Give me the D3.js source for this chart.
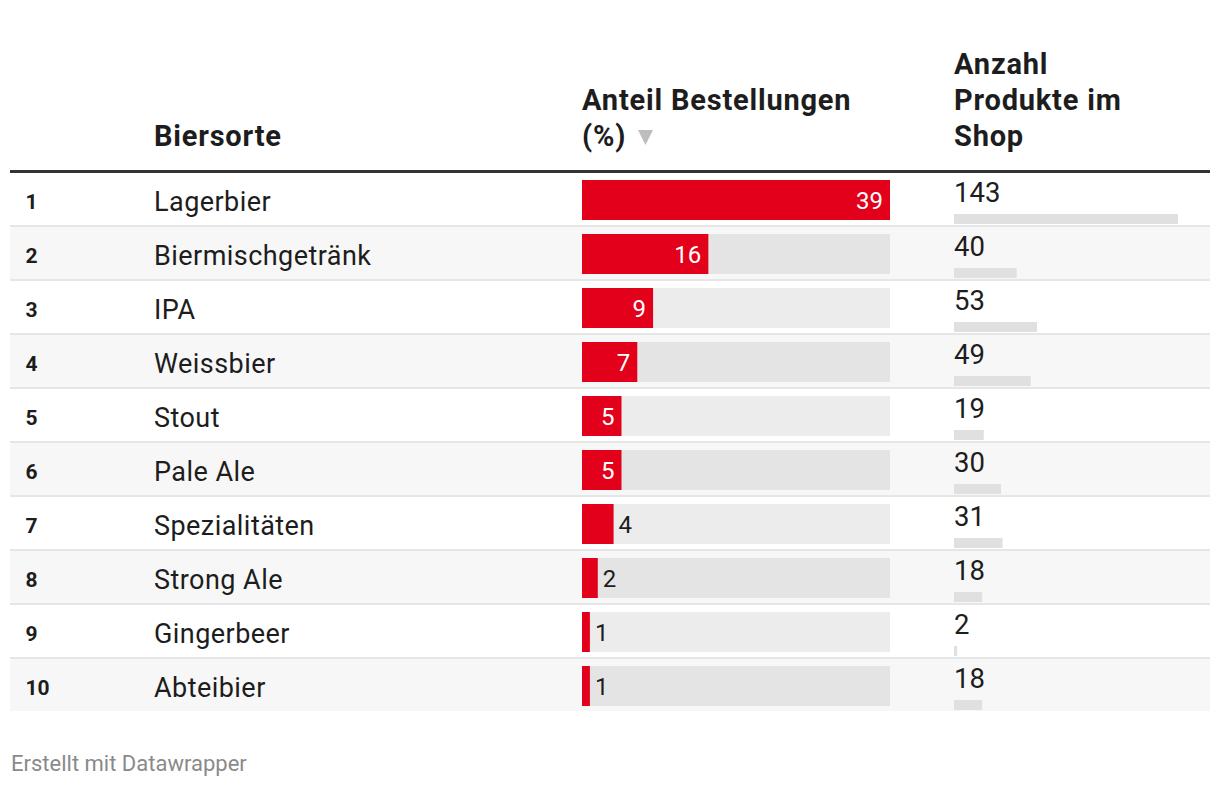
<!DOCTYPE html>
<html><head><meta charset="utf-8">
<script src="https://cdn.jsdelivr.net/npm/d3@7"></script>
<style>
html,body{margin:0;padding:0;background:#fff;}
svg text{font-family:Roboto,"Noto Sans",sans-serif;}
</style></head>
<body><svg id="chart" width="1220" height="788"></svg>
<script>
const ranks = [1,2,3,4,5,6,7,8,9,10];
const categories = ["Lagerbier","Biermischgetränk","IPA","Weissbier","Stout","Pale Ale","Spezialitäten","Strong Ale","Gingerbeer","Abteibier"];
const shareOrders = [39,16,9,7,5,5,4,2,1,1];
const productCount = [143,40,53,49,19,30,31,18,2,18];
const headerCategory = ["Biersorte"];
const headerShare = ["Anteil Bestellungen","(%)"];
const headerCount = ["Anzahl","Produkte im","Shop"];
const footer = "Erstellt mit Datawrapper";

const svg = d3.select("#chart");
const left = 10, right = 1210;
const headerLineY = 170, rowTop0 = 173, rowH = 54, rowContentH = 52;
const xRank = 25.5, xCat = 154, xBar = 582, barW = 308, xCount = 954, miniW = 224;
const red = "#e3001b", dark = "#1d1d1d";
const hdrSize = 29, hdrLS = 0.8;

const xShare = d3.scaleLinear().domain([0, d3.max(shareOrders)]).range([0, barW]);
const xCnt = d3.scaleLinear().domain([0, d3.max(productCount)]).range([0, miniW]);
const yRow = d3.scaleBand().domain(d3.range(categories.length)).range([rowTop0, rowTop0 + rowH*categories.length]).padding(0);

const rows = categories.map((c,i)=>({rank:ranks[i], cat:c, share:shareOrders[i], count:productCount[i], i}));

function hdr(x, y, t){
  svg.append("text").attr("x", x).attr("y", y).attr("font-size", hdrSize).attr("font-weight", 700)
    .attr("letter-spacing", hdrLS).attr("fill", dark).text(t);
}
hdr(xCat, 146, headerCategory[0]);
headerShare.forEach((t,k)=>hdr(xBar, 110 + 36*k, t));
svg.append("path").attr("d", "M638,130 L653,130 L645.5,145 Z").attr("fill", "#bdbdbd");
headerCount.forEach((t,k)=>hdr(xCount, 74 + 36*k, t));
svg.append("rect").attr("x", left).attr("y", headerLineY).attr("width", right-left).attr("height", 3.5).attr("fill", "#333");

const g = svg.selectAll("g.row").data(rows).join("g").attr("class","row")
  .attr("transform", d=>`translate(0,${yRow(d.i)})`);

g.append("rect").attr("x", left).attr("y", 0).attr("width", right-left).attr("height", rowContentH)
  .attr("fill", d=> d.i%2===1 ? "#f7f7f7" : "#fff");
g.filter(d=>d.i < rows.length-1).append("rect").attr("x", left).attr("y", rowContentH).attr("width", right-left).attr("height", 2).attr("fill", "#e6e6e6");

g.append("text").attr("x", xRank).attr("y", 35.5).attr("font-size", 21).attr("font-weight", 700).attr("fill", dark).text(d=>d.rank);
g.append("text").attr("x", xCat).attr("y", 37.5).attr("font-size", 27).attr("letter-spacing", 0.45).attr("fill", dark).text(d=>d.cat);

g.append("rect").attr("x", xBar).attr("y", 7).attr("width", barW).attr("height", 40).attr("fill", "rgba(0,0,0,0.075)");
g.append("rect").attr("x", xBar).attr("y", 7).attr("width", d=>xShare(d.share)).attr("height", 40).attr("fill", red);
g.append("text")
  .attr("x", d=> xShare(d.share) >= 36 ? xBar + xShare(d.share) - 7 : xBar + xShare(d.share) + 5)
  .attr("text-anchor", d=> xShare(d.share) >= 36 ? "end" : "start")
  .attr("y", 35.5).attr("font-size", 24)
  .attr("fill", d=> xShare(d.share) >= 36 ? "#fff" : dark)
  .text(d=>d.share);

g.append("text").attr("x", xCount).attr("y", 29).attr("font-size", 27.5).attr("fill", dark).text(d=>d.count);
g.append("rect").attr("x", xCount).attr("y", 41).attr("width", d=>xCnt(d.count)).attr("height", 10).attr("fill", "#e0e0e0");

svg.append("text").attr("x", 11).attr("y", 771).attr("font-size", 22).attr("fill", "#8a8a8a").text(footer);
</script></body></html>
